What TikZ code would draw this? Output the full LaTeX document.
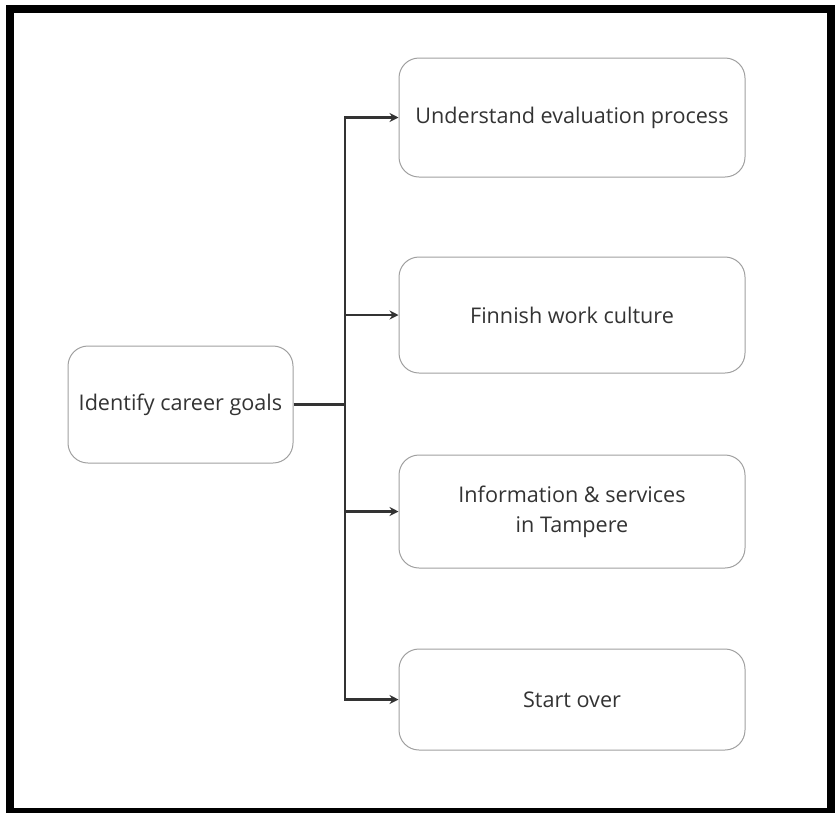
\documentclass[tikz,border=0pt]{standalone}
\usepackage{fontspec}
\setmainfont{Open Sans}
\usetikzlibrary{arrows.meta}
\definecolor{boxgray}{HTML}{A0A0A0}
\definecolor{linkgray}{HTML}{333333}
\definecolor{textgray}{HTML}{333333}
\begin{document}
\begin{tikzpicture}[x=1pt,y=-1pt,
  box/.style={draw=boxgray, line width=1pt, rounded corners=20pt,
    inner sep=0pt, text=textgray, align=center,
    font=\fontsize{21.6}{30}\selectfont},
  goalbox/.style={box, minimum width=225pt, minimum height=117pt},
  topicbox/.style={box, minimum width=346pt, minimum height=117pt},
  link/.style={draw=linkgray, line width=2.4pt},
  arr/.style={link, -{Stealth[length=9pt,width=9pt]}},
  frame/.style={draw=black, line width=8pt}]
\useasboundingbox (0,0) rectangle (835,812);
\draw[frame] (10,9) rectangle (831,812);

\node[goalbox] (goal) at (180.5,404.5) {Identify career goals};
\node[topicbox, minimum height=119pt] (eval) at (572,117.5) {Understand evaluation process};
\node[topicbox, minimum height=116pt] (culture) at (572,315) {Finnish work culture};
\node[topicbox, minimum height=113pt] (info) at (572,511.5) {Information \& services\\in Tampere};
\node[topicbox, minimum height=101pt] (over) at (572,699.5) {Start over};

\coordinate (split) at (345,404.5);
\draw[link] (goal.east) -- (split);
\draw[arr] (split) |- (eval.west);
\draw[arr] (split) |- (culture.west);
\draw[arr] (split) |- (info.west);
\draw[arr] (split) |- (over.west);
\end{tikzpicture}
\end{document}
